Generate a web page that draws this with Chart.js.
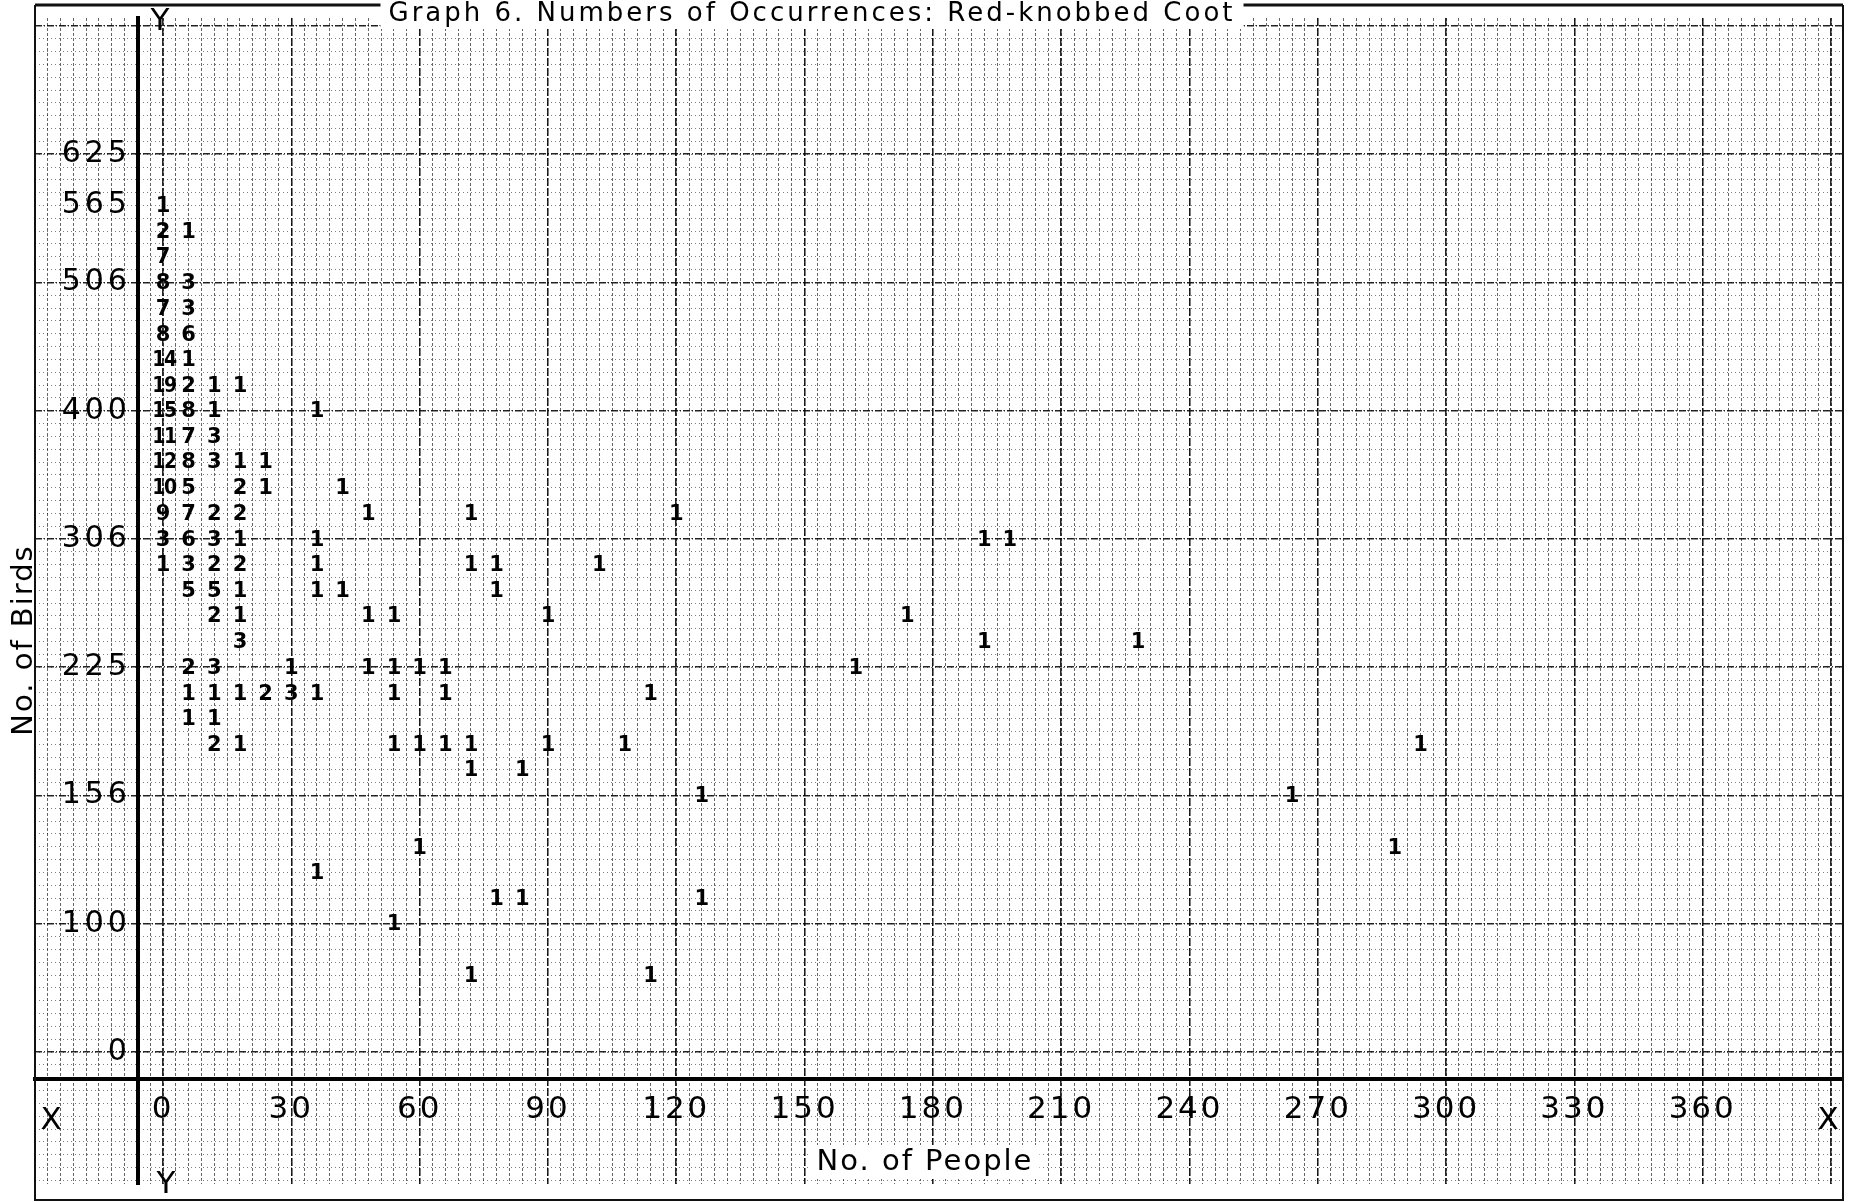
<!DOCTYPE html>
<html>
<head>
<meta charset="utf-8">
<script src="https://cdn.jsdelivr.net/npm/chart.js@4/dist/chart.umd.min.js"></script>
<style>
html,body{margin:0;padding:0;background:#fff;overflow:hidden}
canvas{display:block}
</style>
</head>
<body>
<canvas id="c" width="1859" height="1202"></canvas>
<script>
// ---------------- data ----------------
const titleText = 'Graph 6. Numbers of Occurrences: Red-knobbed Coot';
const xAxisTitle = 'No. of People';
const yAxisTitle = 'No. of Birds';

// x tick labels (No. of People)
const xTickValues = [0, 30, 60, 90, 120, 150, 180, 210, 240, 270, 300, 330, 360];
// y tick labels (No. of Birds); the birds axis is drawn on a square-root scale,
// with the "0" label placed on a broken section one step below 100
const yTickLabels = ['0', '100', '156', '225', '306', '400', '506', '565', '625'];
const yTickRows   = [7.5, 10, 12.5, 15, 17.5, 20, 22.5, 24, 25];

// one entry per written number: people, birds, occurrences
const people = [
  0, 0, 0, 0, 0, 0, 0, 0, 0, 0, 0, 0, 0, 0, 0,
  6, 6, 6, 6, 6, 6, 6, 6, 6, 6, 6, 6, 6, 6, 6, 6, 6,
  12, 12, 12, 12, 12, 12, 12, 12, 12, 12, 12, 12, 12,
  18, 18, 18, 18, 18, 18, 18, 18, 18, 18, 18,
  24, 24, 24,
  30, 30,
  36, 36, 36, 36, 36, 36,
  42, 42,
  48, 48, 48,
  54, 54, 54, 54, 54,
  60, 60, 60,
  66, 66, 66,
  72, 72, 72, 72, 72,
  78, 78, 78,
  84, 84,
  90, 90,
  102, 108, 114, 114, 120, 126, 126,
  162, 174, 192, 192, 198, 228, 264, 288, 294
];
const birds = [
  576, 552, 529, 506, 484, 462, 441, 420, 400, 380, 361, 342, 324, 306, 289,
  552, 506, 484, 462, 441, 420, 400, 380, 361, 342, 324, 306, 289, 272, 225, 210, 196,
  420, 400, 380, 361, 324, 306, 289, 272, 256, 225, 210, 196, 182,
  420, 361, 342, 324, 306, 289, 272, 256, 240, 210, 182,
  361, 342, 210,
  225, 210,
  400, 306, 289, 272, 210, 121,
  342, 272,
  324, 256, 225,
  256, 225, 210, 182, 100,
  225, 182, 132,
  225, 210, 182,
  324, 289, 182, 169, 81,
  289, 272, 110,
  169, 110,
  256, 182,
  289, 182, 210, 81, 324, 156, 110,
  225, 256, 306, 240, 306, 240, 156, 132, 182
];
const occurrences = [
  1, 2, 7, 8, 7, 8, 14, 19, 15, 11, 12, 10, 9, 3, 1,
  1, 3, 3, 6, 1, 2, 8, 7, 8, 5, 7, 6, 3, 5, 2, 1, 1,
  1, 1, 3, 3, 2, 3, 2, 5, 2, 3, 1, 1, 2,
  1, 1, 2, 2, 1, 2, 1, 1, 3, 1, 1,
  1, 1, 2,
  1, 3,
  1, 1, 1, 1, 1, 1,
  1, 1,
  1, 1, 1,
  1, 1, 1, 1, 1,
  1, 1, 1,
  1, 1, 1,
  1, 1, 1, 1, 1,
  1, 1, 1,
  1, 1,
  1, 1,
  1, 1, 1, 1, 1, 1, 1,
  1, 1, 1, 1, 1, 1, 1, 1, 1
];

// ---------------- scale geometry ----------------
const X_MIN = -29.93, X_MAX = 392.8;      // people
const Y_MIN = 4.928, Y_MAX = 27.655;      // sqrt(birds)
const X_AXIS_AT = 6.97;                   // where the people axis line crosses
const Y_AXIS_AT = -5.85;                  // where the birds axis line crosses
const Y_LABELS_AT = -7.5;                 // right edge of the birds tick labels

function steps(a, b, s) { const out = []; for (let v = a; v <= b + 1e-9; v += s) out.push(+v.toFixed(4)); return out; }

function gridScale(axis, values, color, width, dash) {
  return {
    type: 'linear', axis, display: true,
    min: axis === 'x' ? X_MIN : Y_MIN, max: axis === 'x' ? X_MAX : Y_MAX,
    position: axis === 'x' ? { y: X_AXIS_AT } : { x: Y_AXIS_AT },
    afterBuildTicks: s => { s.ticks = values.map(v => ({ value: v })); },
    ticks: { display: false },
    grid: { display: true, color, lineWidth: width, drawTicks: false },
    border: { display: false, dash }
  };
}

const countLabels = {
  id: 'countLabels',
  afterDatasetsDraw(chart) {
    const ctx = chart.ctx;
    const meta = chart.getDatasetMeta(0);
    ctx.save();
    ctx.fillStyle = '#000';
    ctx.textAlign = 'center';
    ctx.textBaseline = 'middle';
    meta.data.forEach((el, i) => {
      const t = String(occurrences[i]);
      if (t.length > 1) {
        ctx.font = 'bold 21px "DejaVu Sans Condensed", "DejaVu Sans"';
        ctx.letterSpacing = '-1.5px';
        ctx.fillText(t, el.x + 1, el.y + 1);
      } else {
        ctx.font = 'bold 21px "DejaVu Sans"';
        ctx.letterSpacing = '0px';
        ctx.fillText(t, el.x, el.y + 1);
      }
    });
    ctx.letterSpacing = '0px';
    ctx.restore();
  }
};

const spacedLabels = {
  id: 'spacedLabels',
  beforeDraw(chart) {
    [['y', '4px'], ['x', '3px']].forEach(([id, sp]) => {
      const s = chart.scales[id];
      if (!s || s._spaced) return;
      const orig = s.drawLabels.bind(s);
      s.drawLabels = function (area) {
        const c = this.ctx;
        c.letterSpacing = sp;
        orig(area);
        c.letterSpacing = '0px';
      };
      s._spaced = true;
    });
  }
};

const decor = {
  id: 'decor',
  afterDraw(chart) {
    const ctx = chart.ctx;
    ctx.save();
    // paper border
    ctx.strokeStyle = '#111';
    ctx.lineWidth = 2;
    ctx.beginPath();
    ctx.moveTo(35, 5); ctx.lineTo(35, 1200); ctx.lineTo(1843, 1200); ctx.lineTo(1843, 5);
    ctx.stroke();
    ctx.lineWidth = 3;
    ctx.beginPath(); ctx.moveTo(35, 5); ctx.lineTo(1843, 5); ctx.stroke();

    // title
    ctx.font = '26px "DejaVu Sans"';
    ctx.letterSpacing = '3px';
    ctx.textAlign = 'center';
    ctx.textBaseline = 'top';
    const tw = ctx.measureText(titleText).width;
    ctx.fillStyle = '#fff';
    ctx.fillRect(812 - tw / 2 - 8, 0, tw + 16, 29);
    ctx.fillStyle = '#000';
    ctx.fillText(titleText, 812, 1);

    // axis titles
    ctx.font = '29px "DejaVu Sans"';
    ctx.letterSpacing = '2px';
    ctx.textBaseline = 'middle';
    const pw = ctx.measureText(xAxisTitle).width;
    ctx.fillStyle = '#fff';
    ctx.fillRect(925 - pw / 2 - 6, 1145, pw + 12, 34);
    ctx.fillStyle = '#000';
    ctx.fillText(xAxisTitle, 925, 1162);

    ctx.save();
    ctx.translate(24, 640);
    ctx.rotate(-Math.PI / 2);
    ctx.fillText(yAxisTitle, 0, 0);
    ctx.restore();

    // axis letters
    ctx.letterSpacing = '0px';
    ctx.font = '31px "DejaVu Sans"';
    ctx.fillText('X', 51, 1121);
    ctx.fillText('X', 1828, 1121);
    ctx.fillText('Y', 160, 22);
    ctx.fillText('Y', 166, 1185);
    ctx.restore();
  }
};

new Chart(document.getElementById('c').getContext('2d'), {
  type: 'scatter',
  data: {
    datasets: [{
      label: 'Occurrences',
      data: people.map((p, i) => ({ x: p, y: Math.sqrt(birds[i]) })),
      pointRadius: 0,
      pointHoverRadius: 0,
      showLine: false
    }]
  },
  options: {
    responsive: false,
    animation: false,
    devicePixelRatio: 1,
    events: [],
    layout: { padding: { left: 35, right: 16, top: 0, bottom: 2 } },
    plugins: { legend: { display: false }, tooltip: { enabled: false }, title: { display: false } },
    scales: {
      xMinor: gridScale('x', steps(-27, 390, 3), 'rgba(0,0,0,0.6)', 1, [3, 2]),
      yMinor: gridScale('y', steps(5, 27.5, 0.25), 'rgba(0,0,0,0.5)', 1, [1, 3]),
      xMajor: gridScale('x', steps(0, 390, 30), 'rgba(0,0,0,0.85)', 1.6, [8, 2]),
      yMajor: gridScale('y', steps(7.5, 27.5, 2.5), 'rgba(0,0,0,0.85)', 1.6, [7, 2, 1, 2]),
      yLine: {
        type: 'linear', axis: 'y', min: Y_MIN, max: Y_MAX,
        position: { x: Y_AXIS_AT },
        ticks: { display: false },
        grid: { display: false, drawTicks: false },
        border: { display: true, width: 4, color: '#000' }
      },
      x: {
        type: 'linear', min: X_MIN, max: X_MAX,
        position: { y: X_AXIS_AT },
        afterBuildTicks: s => { s.ticks = xTickValues.map(v => ({ value: v })); },
        ticks: { color: '#000', font: { family: 'DejaVu Sans', size: 31 }, padding: 12, maxRotation: 0, autoSkip: false },
        grid: { display: false, drawTicks: false },
        border: { display: true, width: 4, color: '#000' }
      },
      y: {
        type: 'linear', min: Y_MIN, max: Y_MAX,
        position: { x: Y_LABELS_AT },
        afterBuildTicks: s => { s.ticks = yTickRows.map(v => ({ value: v })); },
        ticks: {
          color: '#000', font: { family: 'DejaVu Sans', size: 30 }, padding: 0, autoSkip: false,
          callback: (v, i) => yTickLabels[i]
        },
        grid: { display: false, drawTicks: false },
        border: { display: false }
      }
    }
  },
  plugins: [spacedLabels, countLabels, decor]
});
</script>
</body>
</html>
